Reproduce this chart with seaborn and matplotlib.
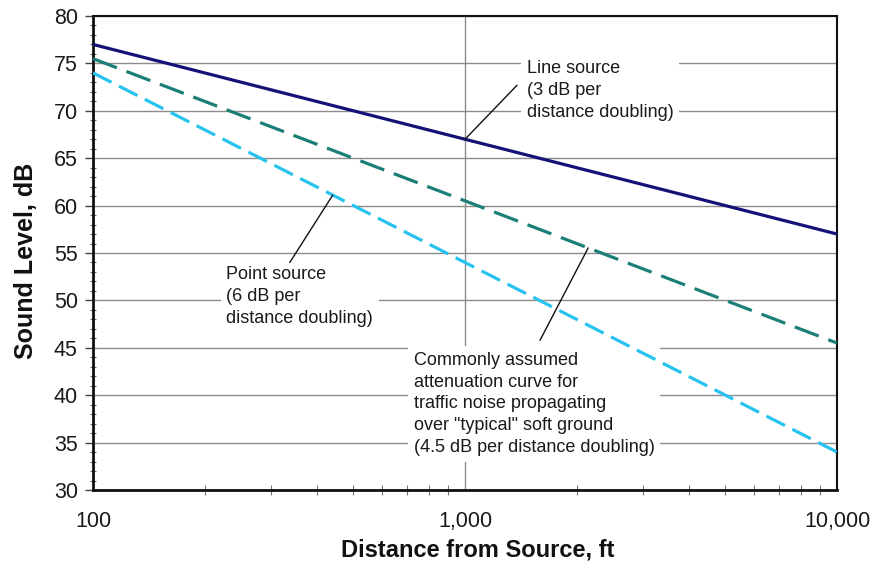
"""
plot.py - Sound level attenuation with distance (line / point / soft ground)
"""

import numpy as np
import pandas as pd
import matplotlib
matplotlib.use('Agg')
import matplotlib.pyplot as plt
import matplotlib.ticker as mticker
import seaborn as sns

# Data
distance_ft = [100, 1000, 10000]
line_source_db = [77, 67, 57]        # 3 dB per doubling
soft_ground_db = [75.5, 60.5, 45.5]  # 4.5 dB per doubling
point_source_db = [74, 54, 34]       # 6 dB per doubling

series_names = ['Line source', 'Soft ground', 'Point source']
series_colors = ['#131377', '#1b7f78', '#27c3ee']

line_label = "Line source\n(3 dB per\ndistance doubling)"
point_label = "Point source\n(6 dB per\ndistance doubling)"
soft_label = ('Commonly assumed\nattenuation curve for\ntraffic noise propagating\n'
              'over "typical" soft ground\n(4.5 dB per distance doubling)')

sns.set_theme(style='white')
plt.rcParams['font.family'] = ['Liberation Sans', 'DejaVu Sans']


def on_curve(x, xs, ys):
    """Value of a straight (log-x) curve at distance x."""
    return np.interp(np.log10(x), np.log10(xs), ys)


fig = plt.figure(figsize=(8.75, 5.66), dpi=100)
ax = fig.add_axes([0.1063, 0.1343, 0.8503, 0.8374])

df = pd.DataFrame({
    'distance': distance_ft * 3,
    'level': line_source_db + soft_ground_db + point_source_db,
    'series': [s for s in series_names for _ in distance_ft],
})

dashes = {'Line source': '', 'Soft ground': (8, 3.2), 'Point source': (6.5, 2.6)}
sns.lineplot(data=df, x='distance', y='level', hue='series', style='series',
             palette=dict(zip(series_names, series_colors)), dashes=dashes,
             linewidth=2.3, legend=False, ax=ax, zorder=5)

ax.set_xscale('log')
ax.set_xlim(100, 10000)
ax.set_ylim(30, 80)
ax.yaxis.set_major_locator(mticker.MultipleLocator(5))
ax.yaxis.set_minor_locator(mticker.MultipleLocator(1))
ax.xaxis.set_major_locator(mticker.LogLocator(base=10))
ax.xaxis.set_minor_locator(mticker.LogLocator(base=10, subs=np.arange(2, 10)))
ax.xaxis.set_minor_formatter(mticker.NullFormatter())
ax.xaxis.set_major_formatter(mticker.FuncFormatter(lambda v, p: f'{v:,.0f}'))

ax.grid(True, which='major', color='#8c8c8c', linewidth=1.0, zorder=0)
ax.set_axisbelow(True)

for side, sp in ax.spines.items():
    sp.set_color('#111111')
    sp.set_linewidth(2.0 if side in ('left', 'bottom') else 1.5)

ax.tick_params(axis='y', which='major', direction='out', length=6, width=1,
               color='#444444', labelsize=15.5, pad=5, left=True)
ax.tick_params(axis='y', which='minor', direction='inout', length=5, width=0.8,
               color='#666666', left=True)
ax.tick_params(axis='x', which='major', direction='out', length=0,
               labelsize=15.5, pad=15, bottom=True)
ax.tick_params(axis='x', which='minor', direction='inout', length=7, width=0.8,
               color='#777777', bottom=True)
for lab in ax.get_xticklabels() + ax.get_yticklabels():
    lab.set_color('#1a1a1a')

ax.set_xlabel('Distance from Source, ft', fontsize=17, fontweight='bold',
              labelpad=5, color='#111111')
ax.set_ylabel('Sound Level, dB', fontsize=18, fontweight='bold',
              labelpad=11, color='#111111')
ax.xaxis.label.set_x(0.517)
ax.yaxis.label.set_y(0.483)

box = dict(facecolor='white', edgecolor='none', pad=4)
text_kw = dict(fontsize=13, ha='left', va='top', linespacing=1.38,
               color='#1a1a1a', bbox=box, zorder=3)

# Annotations: (label, text anchor, leader start distance, leader end, curve)
notes = [
    (line_label, (1468, 75.4), 1000, (1380, 72.7), line_source_db),
    (point_label, (228, 53.6), 441, (338, 54.0), point_source_db),
    (soft_label, (729, 44.6), 2143, (1591, 45.8), soft_ground_db),
]
for label, (tx, ty), x0, (x1, y1), curve in notes:
    ax.text(tx, ty, label, **text_kw)
    y0 = on_curve(x0, distance_ft, curve)
    ax.plot([x0, x1], [y0, y1], color='#111111', linewidth=1.0, zorder=6)

fig.savefig('out.png', dpi=100)
